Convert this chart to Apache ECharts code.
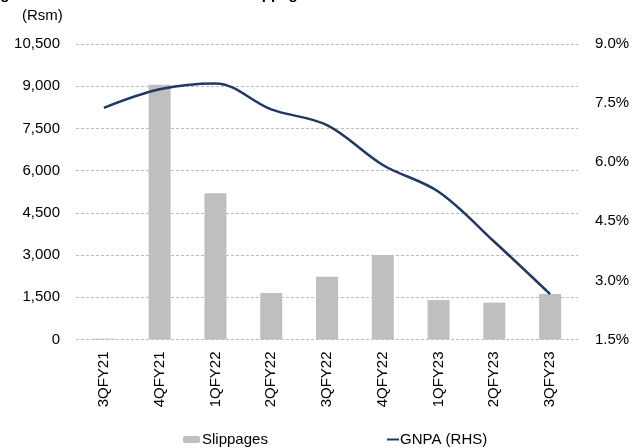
<!DOCTYPE html>
<html>
<head>
	<meta charset="UTF-8">
	<title>Slippages and GNPA</title>
	<script src="https://cdn.jsdelivr.net/npm/echarts@6/dist/echarts.min.js"></script>
	<style>
		html, body { margin: 0; padding: 0; background: #fff; }
		#chart { width: 643px; height: 448px; }
	</style>
</head>
<body>
	<div id="chart"></div>
	<script>
		// data
		var quarters = ["3QFY21", "4QFY21", "1QFY22", "2QFY22", "3QFY22", "4QFY22", "1QFY23", "2QFY23", "3QFY23"];
		var slippages = [30, 9050, 5200, 1650, 2230, 3000, 1400, 1310, 1620]; // Rsm
		var gnpa = [7.38, 7.85, 8.0, 7.34, 6.94, 5.93, 5.25, 3.98, 2.65]; // %

		var font = "Liberation Sans, Arial, sans-serif";
		var myChart = echarts.init(document.getElementById("chart"));

		var option = {
			animation: false,
			textStyle: { fontFamily: font },
			graphic: [
				{
					// title is cropped off at the top of the reference, only descenders show
					type: "text", left: -13, top: -13,
					style: { text: "Figure 14: Trend in GNPA and fresh Slippages", font: "bold 15px " + font, fill: "#000" }
				},
				{
					type: "text", left: 22, top: 8,
					style: { text: "(Rsm)", font: "15px " + font, fill: "#000" }
				}
			],
			grid: { left: 76, right: 65, top: 44, bottom: 108.5 },
			legend: [
				{
					data: ["Slippages"], left: 178, top: 427,
					itemWidth: 17, itemHeight: 7,
					textStyle: { fontSize: 15, color: "#000", padding: [0, 0, 0, -3] }
				},
				{
					data: [{ name: "GNPA (RHS)", icon: "rect" }], left: 382, top: 427,
					itemWidth: 12, itemHeight: 2,
					textStyle: { fontSize: 15, color: "#000", padding: [0, 0, 0, -4] }
				}
			],
			xAxis: {
				type: "category",
				data: quarters,
				axisLine: { show: false },
				axisTick: { show: false },
				axisLabel: { rotate: 90, fontSize: 15, color: "#000", margin: 12 }
			},
			yAxis: [
				{
					type: "value", min: 0, max: 10500, interval: 1500,
					axisLine: { show: false }, axisTick: { show: false },
					axisLabel: {
						fontSize: 15, color: "#000", margin: 16,
						formatter: function (v) { return v.toLocaleString("en-US"); }
					},
					splitLine: { lineStyle: { color: "#bdbdbd", type: [3, 2], width: 1 } }
				},
				{
					type: "value", min: 1.5, max: 9, interval: 1.5,
					axisLine: { show: false }, axisTick: { show: false },
					axisLabel: {
						fontSize: 15, color: "#000", margin: 17,
						formatter: function (v) { return v.toFixed(1) + "%"; }
					},
					splitLine: { show: false }
				}
			],
			series: [
				{
					name: "Slippages", type: "bar", data: slippages,
					barWidth: 22,
					itemStyle: { color: "#bfbfbf" }
				},
				{
					name: "GNPA (RHS)", type: "line", yAxisIndex: 1, data: gnpa,
					smooth: 0.35, symbol: "none",
					lineStyle: { color: "#1f3a60", width: 2.5 },
					itemStyle: { color: "#1f3a60" }
				}
			]
		};
		myChart.setOption(option);
	</script>
</body>
</html>
